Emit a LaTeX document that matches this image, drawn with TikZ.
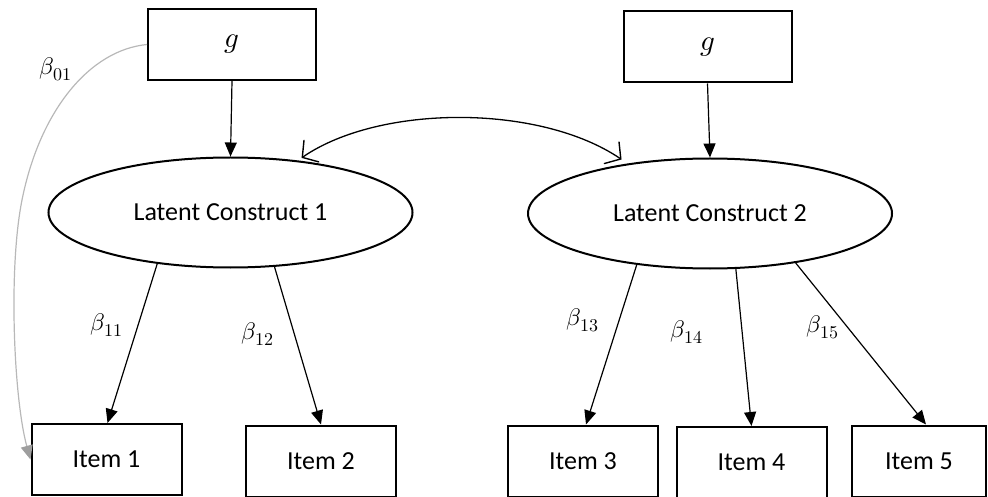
\documentclass[tikz,border=0pt]{standalone}
\usepackage{fontspec}
\usepackage{unicode-math}
\setmainfont{Carlito}
\DeclareMathSizes{24}{24}{18}{14}
\usetikzlibrary{arrows.meta,shapes.geometric}

\begin{document}
\begin{tikzpicture}[x=1pt,y=-1pt,
  box/.style={draw,line width=2pt,rectangle,inner sep=0pt,
    minimum width=150pt,minimum height=71pt,font=\fontsize{26}{30}\selectfont},
  gbox/.style={draw,line width=2pt,rectangle,inner sep=0pt,
    minimum width=168pt,minimum height=71pt,font=\fontsize{29}{33}\selectfont},
  latent/.style={draw,line width=2pt,ellipse,inner sep=0pt,
    minimum width=364pt,minimum height=110pt,font=\fontsize{26}{30}\selectfont},
  load/.style={line width=1.2pt,-{Triangle[length=14pt,width=12pt]}},
  coef/.style={font=\fontsize{24}{28}\selectfont,inner sep=0pt},
  barb/.tip={Straight Barb[length=11pt,width=26pt,line width=1.4pt,line cap=round]},
  cov/.style={line width=1.3pt,{barb}-{barb}},
  grayload/.style={draw=black!28,line width=1.2pt,-{Triangle[length=14pt,width=12pt,color=black!38,fill=black!38]}}
]
\useasboundingbox (0,0) rectangle (988,497);

% general factor boxes
\node[gbox] (g1) at (232,44.5) {$g$};
\node[gbox] (g2) at (707.5,47) {$g$};

% latent constructs
\node[latent] (e1) at (230.5,212.5) {Latent Construct 1};
\node[latent] (e2) at (710,213.5) {Latent Construct 2};

% observed items
\node[box] (i1) at (106.5,459.5) {Item 1};
\node[box] (i2) at (321,461) {Item 2};
\node[box] (i3) at (583,461) {Item 3};
\node[box] (i4) at (751.5,462.5) {Item 4};
\node[box,minimum width=134pt] (i5) at (919,461) {Item 5};

% paths from g to the constructs
\draw[load] (g1.south) -- (e1.north);
\draw[load] (g2.south) -- (e2.north);

% loadings
\draw[load] (e1.215) -- ([xshift=1pt]i1.north);
\draw[load] (e1.309) -- (i2.north);
\draw[load] (e2.215) -- ([xshift=3pt]i3.north);
\draw[load] (e2.295) -- (i4.north);
\draw[load] (e2.330) -- ([xshift=7pt]i5.north);

% covariance between constructs
\draw[cov] ([yshift=3pt]e1.36) .. controls (380,104) and (540,104) .. ([yshift=5pt]e2.151);

% direct path from g to the first item
\coordinate (bend) at (22,200);
\draw[grayload] (g1.west) .. controls (90,50) and (40,110) .. (bend)
  .. controls (8,270) and (14,400) .. (i1.west);

% coefficient labels
\node[coef] (b01) at (56,69) {$\beta_{01}$};
\node[coef] (b11) at (107,325) {$\beta_{11}$};
\node[coef] (b12) at (258,334) {$\beta_{12}$};
\node[coef] (b13) at (583,320) {$\beta_{13}$};
\node[coef] (b14) at (687,332) {$\beta_{14}$};
\node[coef] (b15) at (823,327) {$\beta_{15}$};
\end{tikzpicture}
\end{document}
